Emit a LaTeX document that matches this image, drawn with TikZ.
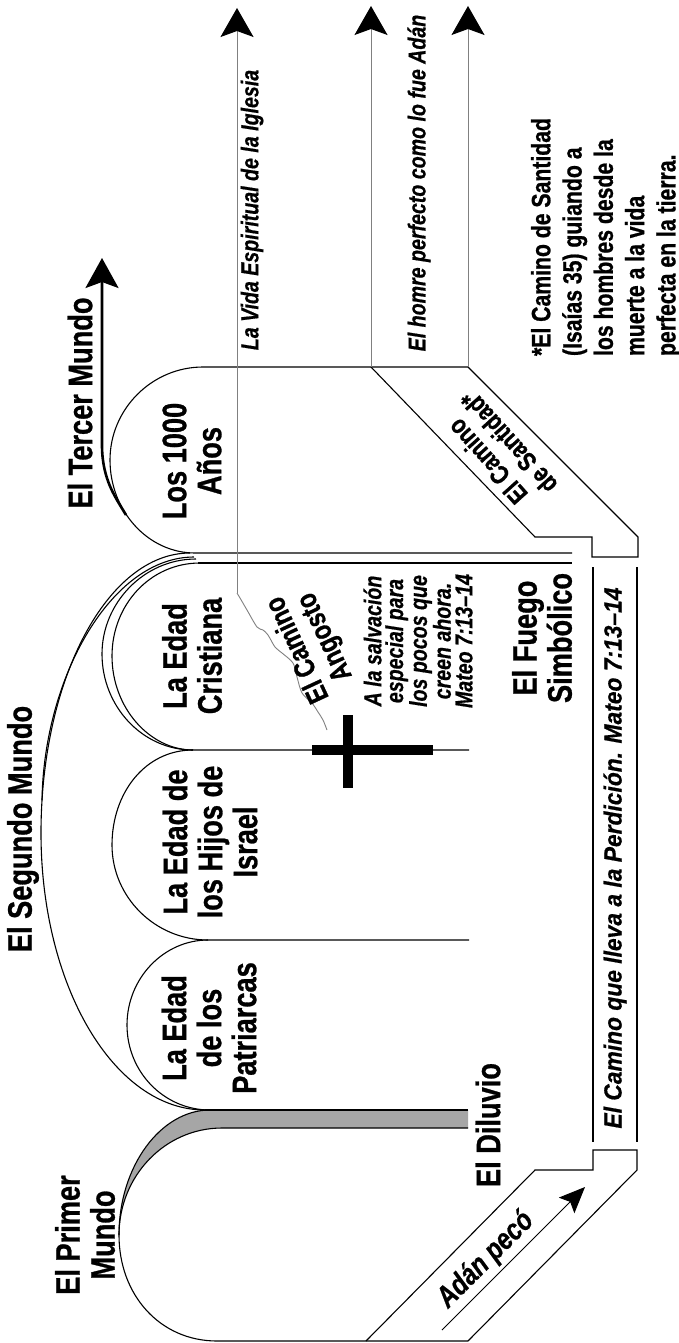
\documentclass[tikz,border=0pt]{standalone}
\usepackage{fontspec}
\newfontfamily\cf[FakeStretch=0.8,BoldFeatures={FakeBold=0.8},BoldItalicFeatures={FakeBold=0.6}]{Liberation Sans}
\newfontfamily\cfw[FakeStretch=0.92,BoldItalicFeatures={FakeBold=0.6}]{Liberation Sans}
\usetikzlibrary{arrows.meta}
\begin{document}
\begin{tikzpicture}[x=1pt,y=-1pt,
  ln/.style={line width=1.1pt, draw=black},
  thk/.style={line width=2pt, draw=black},
  gl/.style={line width=0.9pt, draw=black!50},
  bigtxt/.style={font=\cf\bfseries\fontsize{34}{35}\selectfont, align=center, inner sep=0pt},
  itltxt/.style={font=\cf\bfseries\itshape\fontsize{24.5}{21.7}\selectfont, align=center, inner sep=0pt},
  midtxt/.style={font=\cf\bfseries\fontsize{26.5}{31.3}\selectfont, inner sep=0pt},
  uptip/.style={-{Stealth[length=29pt,width=33pt,inset=6pt,color=black]}},
]
\fill[white] (0,0) rectangle (679,1343);
\useasboundingbox (0,0) rectangle (679,1343);

% ---- first world and flood
\fill[black!35] (210,1110) .. controls (161,1110) and (119,1166) .. (119,1235)
   .. controls (119,1176) and (165,1128) .. (222,1128) -- (468,1128) -- (468,1110) -- cycle;
\draw[ln] (205,1110) -- (468,1110);
\draw[ln] (210,1110) .. controls (161,1110) and (119,1166) .. (119,1235);
\draw[ln] (468,1128) -- (222,1128) .. controls (165,1128) and (119,1176) .. (119,1235)
   .. controls (119,1295) and (160,1341) .. (217,1341) -- (468,1341);

% ---- road of perdition
\draw[ln] (366,1341) -- (535,1170) -- (593,1170) -- (593,1150) -- (637,1150) -- (637,1170) -- (468,1341);
\draw[thk] (593,567) -- (593,1142);
\draw[thk] (637,567) -- (637,1142);
\draw[ln] (371,367) -- (535,537) -- (592,537) -- (592,557) -- (638,557) -- (638,537) -- (468,367);

% ---- third world (1000 years)
\draw[ln] (468,367) -- (203,367) .. controls (152,367) and (110,409) .. (110,460)
   .. controls (110,511) and (148,553) .. (195,553) -- (572,553);
\draw[thk] (198,562.5) -- (572,562.5);

% ---- second world
\draw[ln] (190,553) .. controls (108,553) and (41,678) .. (41,833)
   .. controls (41,986) and (114,1110) .. (205,1110);
\draw[ln] (194,557) .. controls (112,557) and (44,676) .. (42,800);
\draw[ln] (196,559) .. controls (144,559) and (102,603) .. (102,654)
   .. controls (102,706) and (142,750) .. (193,750);
\draw[ln] (200,563) .. controls (150,563) and (112,605) .. (112,656)
   .. controls (112,708) and (150,750) .. (193,750);
\draw[ln] (469,750) -- (193,750) .. controls (145,750) and (112,793) .. (112,845)
   .. controls (112,897) and (155,940) .. (208,940) -- (469,940);
\draw[ln] (208,940) .. controls (164,940) and (127,978) .. (127,1025)
   .. controls (127,1072) and (164,1110) .. (210,1110);

% ---- cross
\draw[line width=10pt] (312,750) -- (433,750);
\draw[line width=10pt] (348,715) -- (348,788);

% ---- narrow way and arrows
\draw[gl] plot[smooth, tension=0.5] coordinates {(237,593) (240,598) (247,610) (257,627) (263,630) (268,635) (275,647) (282,653) (293,663) (297,677) (302,693) (312,703) (318,712) (323,720) (327,730)};
\coordinate (vb) at (237,593);
\coordinate (vt) at (237,8);
\coordinate (hb) at (371,367);
\coordinate (ht) at (371,6);
\coordinate (sb) at (468,367);
\coordinate (st) at (468,6);
\draw[gl, uptip] (vb) -- (vt);
\draw[gl, uptip] (hb) -- (ht);
\draw[gl, uptip] (sb) -- (st);

\coordinate (tb) at (126,515);
\coordinate (tt) at (102,258);
\draw[line width=2.6pt, -{Stealth[length=30pt,width=33pt,inset=6pt]}] (tb) .. controls (116,498) and (102,480) .. (102,445) -- (tt);

\coordinate (ab) at (442,1330);
\coordinate (at) at (585,1187);
\draw[line width=0.9pt, -{Stealth[length=26pt,width=22pt,inset=5pt]}] (ab) -- (at);

% ---- texts
\node[bigtxt, rotate=90] (primer) at (85,1235) {El Primer\\Mundo};
\node[bigtxt, rotate=90] (diluvio) at (488,1125) {El Diluvio};
\node[bigtxt, rotate=90] (patri) at (209,1028) {La Edad\\de los\\Patriarcas};
\node[bigtxt, rotate=90] (segundo) at (23,829) {El Segundo Mundo};
\node[bigtxt, rotate=90] (israel) at (210,842) {La Edad de\\los Hijos de\\Israel};
\node[bigtxt, rotate=90] (crist) at (192,656) {La Edad\\Cristiana};
\node[bigtxt, rotate=90] (mil) at (192,461) {Los 1000\\Años};
\node[bigtxt, rotate=90] (tercer) at (80,403) {El Tercer Mundo};
\node[bigtxt, rotate=90] (fuego) at (542,638) {El Fuego\\Simbólico};
\node[itltxt, rotate=90] (salv) at (418,641) {A la salvación\\especial para\\los pocos que\\creen ahora.\\Mateo 7:13–14};
\node[inner sep=0pt, font=\cfw\bfseries\itshape\fontsize{24.8}{26}\selectfont, rotate=90] (perd) at (615,858) {El Camino que lleva a la Perdición. Mateo 7:13–14};
\node[itltxt, rotate=90] (vida) at (252,210) {La Vida Espiritual de la Iglesia};
\node[itltxt, rotate=90] (homre) at (419,183) {El homre perfecto como lo fue Adán};
\node[midtxt, align=left, rotate=90] (nota) at (606,237) {*El Camino de Santidad\\(Isaías 35) guiando a\\los hombres desde la\\muerte a la vida\\perfecta en la tierra.};
\node[midtxt, align=center, rotate=115, font=\cf\bfseries\fontsize{29}{30}\selectfont] (angosto) at (312,643) {El Camino\\Angosto};
\node[midtxt, align=center, rotate=132, font=\cf\bfseries\fontsize{26.5}{29}\selectfont] (santidad) at (498,452) {El Camino\\de Santidad*};
\node[inner sep=0pt, font=\cf\bfseries\itshape\fontsize{30}{30}\selectfont, rotate=45] (adan) at (486,1260) {Adán pecó};
\end{tikzpicture}
\end{document}
